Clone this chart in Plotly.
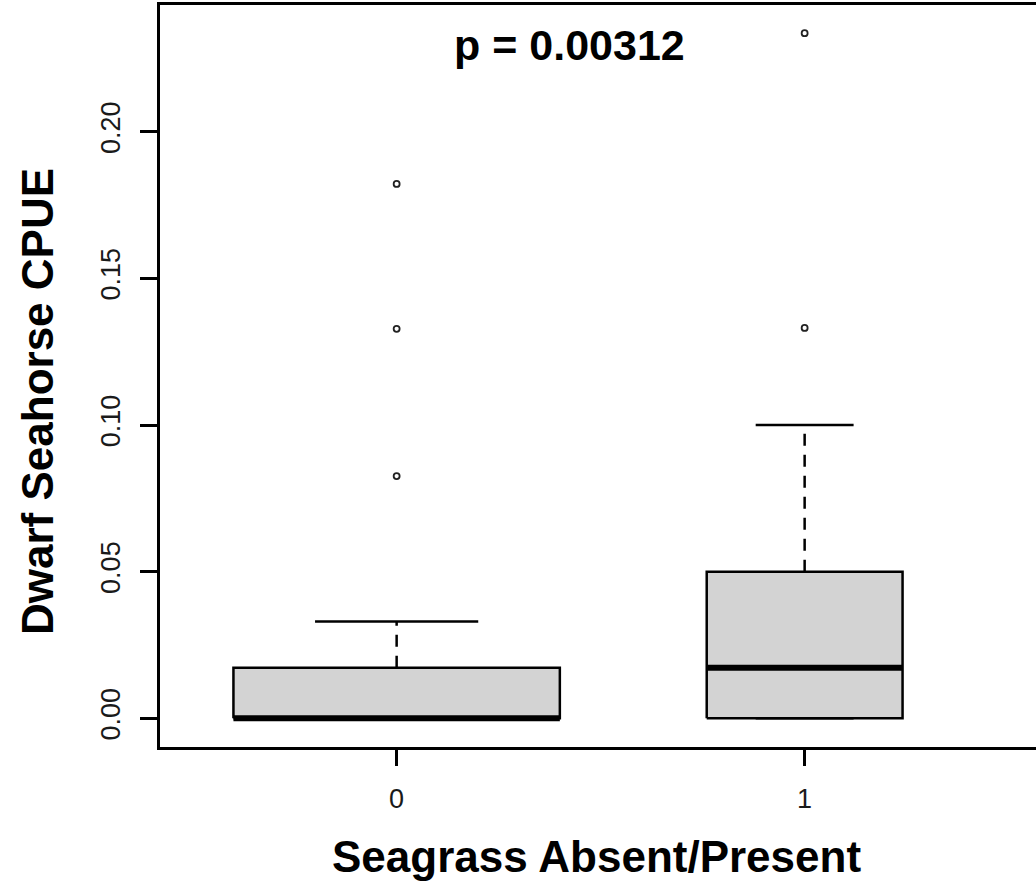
import plotly.graph_objects as go

# ---- data ----
groups = ["0", "1"]
q1 = [0.0, 0.0]
median = [0.0, 0.0172]
q3 = [0.0172, 0.05]
lower_whisker = [0.0, 0.0]
upper_whisker = [0.033, 0.10]
outliers = [[0.1822, 0.1328, 0.0826], [0.2336, 0.1331]]
y_tick_vals = [0.00, 0.05, 0.10, 0.15, 0.20]
y_tick_text = ["0.00", "0.05", "0.10", "0.15", "0.20"]
p_label = "p = 0.00312"
x_title = "Seagrass Absent/Present"
y_title = "Dwarf Seahorse CPUE"

# ---- style ----
BOX_HALF = [0.40, 0.24]          # varwidth boxes
FILL = "#D3D3D3"
FONT = "Liberation Sans, Arial, sans-serif"

W, H = 1036, 887
L, R, T, B = 160, 0, 5, 140

fig = go.Figure()
for i, g in enumerate(groups):
    x0 = i + 1
    hw = BOX_HALF[i]
    cap = hw / 2
    # whiskers (dashed)
    fig.add_trace(go.Scatter(x=[x0, x0], y=[q3[i], upper_whisker[i]], mode="lines",
                             line=dict(color="black", width=2.5, dash="12px,9px"),
                             hoverinfo="skip", showlegend=False))
    fig.add_trace(go.Scatter(x=[x0, x0], y=[q1[i], lower_whisker[i]], mode="lines",
                             line=dict(color="black", width=2.5, dash="12px,9px"),
                             hoverinfo="skip", showlegend=False))
    # caps
    fig.add_trace(go.Scatter(x=[x0 - cap, x0 + cap], y=[upper_whisker[i]] * 2, mode="lines",
                             line=dict(color="black", width=2.5),
                             hoverinfo="skip", showlegend=False))
    fig.add_trace(go.Scatter(x=[x0 - cap, x0 + cap], y=[lower_whisker[i]] * 2, mode="lines",
                             line=dict(color="black", width=2.5),
                             hoverinfo="skip", showlegend=False))
    # box
    fig.add_trace(go.Scatter(x=[x0 - hw, x0 + hw, x0 + hw, x0 - hw, x0 - hw],
                             y=[q1[i], q1[i], q3[i], q3[i], q1[i]],
                             mode="lines", fill="toself", fillcolor=FILL,
                             line=dict(color="black", width=2.5),
                             hoverinfo="skip", showlegend=False))
    # median
    fig.add_trace(go.Scatter(x=[x0 - hw, x0 + hw], y=[median[i]] * 2, mode="lines",
                             line=dict(color="black", width=6),
                             hoverinfo="skip", showlegend=False))
    # outliers
    fig.add_trace(go.Scatter(x=[x0] * len(outliers[i]), y=outliers[i], mode="markers",
                             marker=dict(symbol="circle-open", size=6, color="#222",
                                         line=dict(width=1.8, color="#222")),
                             hoverinfo="skip", showlegend=False))

plot_w = W - L - R
plot_h = H - T - B
px_per_x = 408.0
x_lo = 0.42
x_hi = x_lo + plot_w / px_per_x
px_per_y = 2933.0
zero_px = 718.3
y_hi = (zero_px - T) / px_per_y
y_lo = -((H - B) - zero_px) / px_per_y

fig.update_layout(
    width=W, height=H,
    margin=dict(l=L, r=R, t=T, b=B, pad=0),
    plot_bgcolor="white", paper_bgcolor="white",
    showlegend=False,
    font=dict(family=FONT, color="black"),
    xaxis=dict(range=[x_lo, x_hi], tickvals=[i + 1 for i in range(len(groups))],
               ticktext=groups, showgrid=False, zeroline=False,
               showline=True, mirror=True, linecolor="black", linewidth=2.5,
               ticks="outside", ticklen=16, tickwidth=2.5, tickcolor="black",
               tickfont=dict(size=27, color="#1a1a1a", family=FONT),
               ticklabelstandoff=10),
    yaxis=dict(range=[y_lo, y_hi], tickvals=y_tick_vals, ticktext=y_tick_text,
               showgrid=False, zeroline=False,
               showline=True, mirror=False, linecolor="black", linewidth=2.5,
               ticks="outside", ticklen=17, tickwidth=2.5, tickcolor="black",
               tickangle=-90,
               tickfont=dict(size=27, color="#1a1a1a", family=FONT),
               ticklabelstandoff=9),
)

def px_to_paper_x(px):
    return (px - L) / plot_w

def px_to_paper_y(py):
    return ((H - B) - py) / plot_h

fig.add_annotation(text=f"<b>{p_label}</b>", x=px_to_paper_x(569), y=px_to_paper_y(45),
                   xref="paper", yref="paper", showarrow=False,
                   xanchor="center", yanchor="middle",
                   font=dict(size=43, color="black", family=FONT))
fig.add_annotation(text=f"<b>{x_title}</b>", x=px_to_paper_x(596), y=px_to_paper_y(856),
                   xref="paper", yref="paper", showarrow=False,
                   xanchor="center", yanchor="middle",
                   font=dict(size=44, color="black", family=FONT))
fig.add_annotation(text=f"<b>{y_title}</b>", x=px_to_paper_x(37), y=px_to_paper_y(402),
                   xref="paper", yref="paper", showarrow=False, textangle=-90,
                   xanchor="center", yanchor="middle",
                   font=dict(size=44, color="black", family=FONT))

fig.write_html("out.html", config={"displayModeBar": False},
               post_script="document.body.style.margin='0';document.body.style.padding='0';")
